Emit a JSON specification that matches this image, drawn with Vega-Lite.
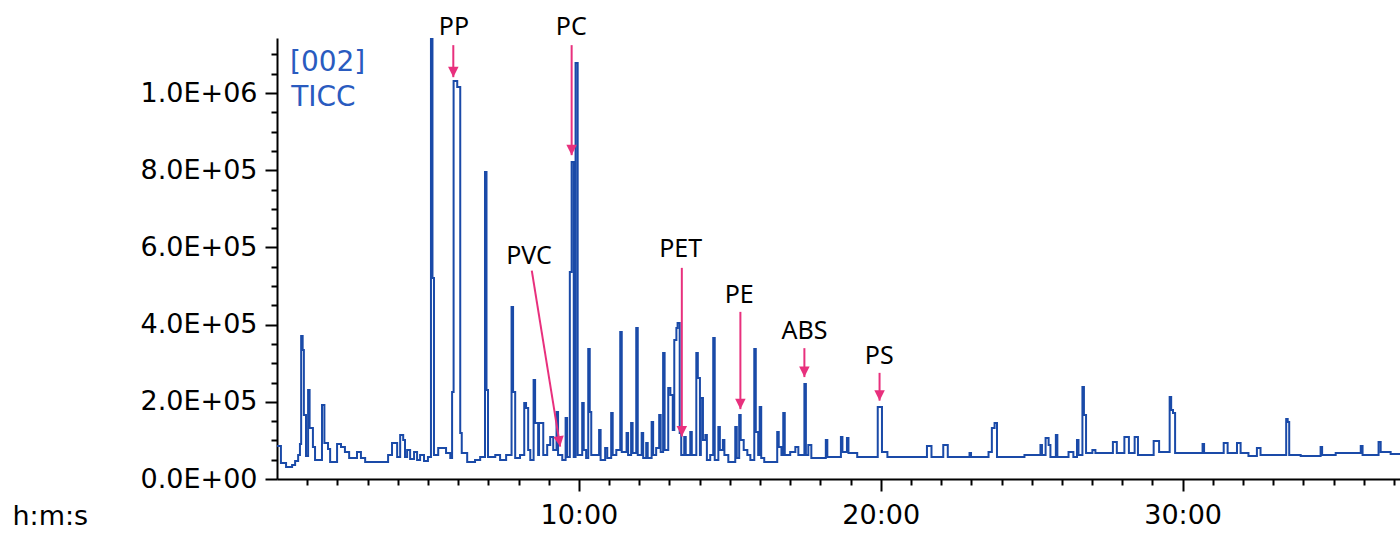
{
  "$schema": "https://vega.github.io/schema/vega-lite/v6.json",
  "width": 1123,
  "height": 441,
  "autosize": {"type": "none"},
  "padding": {"left": 277, "top": 38, "right": 0, "bottom": 73},
  "background": "white",
  "config": {"view": {"stroke": null}},
  "datasets": {
    "trace": [
      {"t":0.00,"v":85500},{"t":0.13,"v":41500},{"t":0.30,"v":31100},{"t":0.50,"v":36300},{"t":0.60,"v":46600},{"t":0.70,"v":62200},{"t":0.76,"v":90700},{"t":0.80,"v":370500},{"t":0.85,"v":334200},{"t":0.89,"v":165800},{"t":0.96,"v":59600},{"t":1.03,"v":230600},{"t":1.08,"v":132100},{"t":1.19,"v":82900},{"t":1.26,"v":49200},{"t":1.49,"v":191700},{"t":1.57,"v":93300},{"t":1.69,"v":77700},{"t":1.76,"v":44000},{"t":1.99,"v":90700},{"t":2.12,"v":82900},{"t":2.25,"v":70000},{"t":2.39,"v":54400},{"t":2.65,"v":70000},{"t":2.78,"v":54400},{"t":2.92,"v":44000},{"t":3.68,"v":62200},{"t":3.81,"v":93300},{"t":3.98,"v":57000},{"t":4.08,"v":114000},{"t":4.18,"v":101000},{"t":4.24,"v":57000},{"t":4.31,"v":75100},{"t":4.41,"v":51800},{"t":4.54,"v":70000},{"t":4.64,"v":49200},{"t":4.74,"v":62200},{"t":4.87,"v":46600},{"t":5.00,"v":57000},
      {"t":5.10,"v":1140000},{"t":5.15,"v":520800},{"t":5.20,"v":62200},{"t":5.34,"v":80300},{"t":5.60,"v":67400},{"t":5.74,"v":54400},{"t":5.80,"v":225400},{"t":5.85,"v":1031200},{"t":5.97,"v":1015700},{"t":6.07,"v":119200},{"t":6.12,"v":67400},{"t":6.30,"v":44000},{"t":6.56,"v":49200},{"t":6.73,"v":57000},{"t":6.89,"v":795400},{"t":6.94,"v":230600},{"t":6.99,"v":57000},{"t":7.23,"v":62200},{"t":7.39,"v":49200},{"t":7.59,"v":62200},{"t":7.77,"v":445700},{"t":7.82,"v":225400},{"t":7.89,"v":54400},{"t":8.05,"v":62200},{"t":8.19,"v":196900},{"t":8.25,"v":184000},{"t":8.32,"v":75100},{"t":8.39,"v":49200},{"t":8.50,"v":256500},{"t":8.55,"v":145100},{"t":8.65,"v":62200},{"t":8.68,"v":145100},{"t":8.82,"v":62200},{"t":8.95,"v":88100},{"t":9.05,"v":108800},{"t":9.15,"v":75100},{"t":9.26,"v":173600},{"t":9.31,"v":62200},{"t":9.45,"v":49200},{"t":9.56,"v":158000},{"t":9.61,"v":57000},{"t":9.70,"v":536300},{"t":9.76,"v":821300},{"t":9.83,"v":57000},{"t":9.89,"v":1077900},{"t":9.96,"v":62200},
      {"t":10.11,"v":196900},{"t":10.16,"v":75100},{"t":10.24,"v":54400},{"t":10.31,"v":336800},{"t":10.36,"v":173600},{"t":10.41,"v":62200},{"t":10.67,"v":127000},{"t":10.72,"v":49200},{"t":10.87,"v":80300},{"t":10.94,"v":54400},{"t":11.07,"v":171000},{"t":11.12,"v":62200},{"t":11.24,"v":75100},{"t":11.37,"v":380900},{"t":11.42,"v":70000},{"t":11.58,"v":119200},{"t":11.63,"v":62200},{"t":11.73,"v":145100},{"t":11.78,"v":67400},{"t":11.90,"v":391200},{"t":11.95,"v":62200},{"t":12.08,"v":119200},{"t":12.13,"v":54400},{"t":12.23,"v":93300},{"t":12.28,"v":54400},{"t":12.41,"v":147700},{"t":12.46,"v":62200},{"t":12.56,"v":80300},{"t":12.66,"v":165800},{"t":12.71,"v":70000},{"t":12.79,"v":326500},{"t":12.84,"v":75100},{"t":12.96,"v":235800},{"t":13.03,"v":217600},{"t":13.11,"v":127000},{"t":13.16,"v":360100},{"t":13.23,"v":391200},{"t":13.27,"v":404200},{"t":13.34,"v":119200},{"t":13.39,"v":62200},{"t":13.49,"v":108800},{"t":13.54,"v":62200},{"t":13.69,"v":121800},{"t":13.74,"v":62200},{"t":13.89,"v":326500},{"t":13.94,"v":261700},{"t":14.01,"v":62200},{"t":14.04,"v":209900},{"t":14.11,"v":101000},{"t":14.19,"v":114000},{"t":14.24,"v":49200},{"t":14.35,"v":62200},{"t":14.45,"v":365300},{"t":14.50,"v":49200},{"t":14.62,"v":134700},{"t":14.67,"v":75100},{"t":14.77,"v":101000},{"t":14.82,"v":62200},{"t":14.95,"v":44000},{"t":15.18,"v":134700},{"t":15.23,"v":54400},{"t":15.31,"v":165800},{"t":15.36,"v":101000},{"t":15.46,"v":75100},{"t":15.58,"v":62200},{"t":15.68,"v":49200},{"t":15.81,"v":336800},{"t":15.86,"v":121800},{"t":15.94,"v":62200},{"t":15.99,"v":186600},{"t":16.04,"v":54400},{"t":16.14,"v":44000},{"t":16.57,"v":121800},{"t":16.62,"v":82900},{"t":16.71,"v":62200},{"t":16.77,"v":171000},{"t":16.82,"v":62200},{"t":17.00,"v":70000},{"t":17.17,"v":82900},{"t":17.27,"v":62200},{"t":17.47,"v":246100},{"t":17.52,"v":62200},{"t":17.60,"v":88100},{"t":17.70,"v":54400},{"t":18.18,"v":101000},{"t":18.23,"v":57000},{"t":18.68,"v":108800},{"t":18.73,"v":70000},{"t":18.88,"v":106200},{"t":18.93,"v":67400},{"t":19.22,"v":57000},{"t":19.90,"v":186600},{"t":20.04,"v":70000},{"t":20.22,"v":57000},
      {"t":21.53,"v":85500},{"t":21.68,"v":57000},{"t":22.07,"v":88100},{"t":22.22,"v":57000},{"t":22.94,"v":67400},{"t":22.99,"v":57000},{"t":23.57,"v":70000},{"t":23.68,"v":132100},{"t":23.77,"v":145100},{"t":23.85,"v":57000},{"t":24.76,"v":62200},{"t":25.29,"v":88100},{"t":25.34,"v":62200},{"t":25.46,"v":106200},{"t":25.56,"v":88100},{"t":25.62,"v":57000},{"t":25.80,"v":114000},{"t":25.85,"v":57000},{"t":26.22,"v":70000},{"t":26.38,"v":57000},{"t":26.50,"v":101000},{"t":26.55,"v":62200},{"t":26.68,"v":238400},{"t":26.73,"v":165800},{"t":26.80,"v":67400},{"t":27.01,"v":75100},{"t":27.11,"v":67400},{"t":27.69,"v":95900},{"t":27.82,"v":67400},{"t":28.07,"v":108800},{"t":28.22,"v":67400},{"t":28.41,"v":108800},{"t":28.52,"v":62200},{"t":29.04,"v":98500},{"t":29.22,"v":70000},{"t":29.57,"v":212500},{"t":29.62,"v":178800},{"t":29.68,"v":171000},{"t":29.75,"v":67400},{"t":30.66,"v":90700},{"t":30.71,"v":67400},{"t":31.36,"v":93300},{"t":31.49,"v":67400},{"t":31.80,"v":93300},{"t":31.92,"v":67400},{"t":32.18,"v":59600},{"t":32.46,"v":80300},{"t":32.58,"v":62200},{"t":33.43,"v":155500},{"t":33.48,"v":147700},{"t":33.53,"v":62200},{"t":33.91,"v":59600},{"t":34.57,"v":82900},{"t":34.62,"v":62200},{"t":35.07,"v":67400},{"t":35.90,"v":85500},{"t":35.96,"v":62200},{"t":36.49,"v":95900},{"t":36.56,"v":70000},{"t":36.89,"v":64800},{"t":37.22,"v":64800}
    ],
    "arrows": [
      {"label":"PP","t":5.84,"v":1124000,"t2":5.84,"v2":1041000},
      {"label":"PC","t":9.76,"v":1124000,"t2":9.76,"v2":839000},
      {"label":"PVC","t":8.44,"v":540000,"t2":9.38,"v2":84000},
      {"label":"PET","t":13.41,"v":547000,"t2":13.41,"v2":110000},
      {"label":"PE","t":15.35,"v":433000,"t2":15.35,"v2":181000},
      {"label":"ABS","t":17.47,"v":339000,"t2":17.47,"v2":264000},
      {"label":"PS","t":19.96,"v":275000,"t2":19.96,"v2":203000}
    ],
    "labels": [
      {"label":"PP","t":5.86,"v":1170000},
      {"label":"PC","t":9.75,"v":1171000},
      {"label":"PVC","t":8.35,"v":578000},
      {"label":"PET","t":13.37,"v":596000},
      {"label":"PE","t":15.31,"v":477000},
      {"label":"ABS","t":17.47,"v":383000},
      {"label":"PS","t":19.95,"v":319000}
    ],
    "header": [
      {"label":"[002]","t":0.43,"v":1078000},
      {"label":"TICC","t":0.47,"v":987000}
    ]
  },
  "layer": [
    {
      "data": {"name": "trace"},
      "mark": {"type": "line", "interpolate": "step-after", "color": "#1a4aa8", "strokeWidth": 2},
      "encoding": {
        "x": {
          "field": "t", "type": "quantitative",
          "scale": {"domain": [0, 37.2], "nice": false, "zero": false},
          "axis": {
            "title": "h:m:s",
            "titleFont": "DejaVu Sans", "titleFontSize": 27, "titleFontWeight": "normal", "titleColor": "black",
            "titleAnchor": "start", "titleAlign": "left", "titleBaseline": "top", "titleX": -265, "titleY": 24,
            "values": [1,2,3,4,5,6,7,8,9,10,11,12,13,14,15,16,17,18,19,20,21,22,23,24,25,26,27,28,29,30,31,32,33,34,35,36,37],
            "tickCount": 500,
            "labelExpr": "datum.value % 10 === 0 ? (datum.value + ':00') : ''",
            "labelFont": "DejaVu Sans", "labelFontSize": 27, "labelColor": "black", "labelPadding": 11,
            "labelFlush": false, "labelOverlap": false,
            "tickSize": {"condition": {"test": "datum.value % 10 === 0", "value": 12}, "value": 6},
            "tickColor": "black", "tickWidth": 2, "domainColor": "black", "domainWidth": 2, "grid": false
          }
        },
        "y": {
          "field": "v", "type": "quantitative",
          "scale": {"domain": [0, 1142500], "nice": false},
          "axis": {
            "title": null,
            "values": [0,50000,100000,150000,200000,250000,300000,350000,400000,450000,500000,550000,600000,650000,700000,750000,800000,850000,900000,950000,1000000,1050000,1100000],
            "tickCount": 500,
            "labelExpr": "datum.value % 200000 === 0 ? (datum.value === 0 ? '0.0E+00' : (datum.value >= 1000000 ? format(datum.value / 1000000, '.1f') + 'E+06' : format(datum.value / 100000, '.1f') + 'E+05')) : ''",
            "labelFont": "DejaVu Sans", "labelFontSize": 27, "labelColor": "black", "labelPadding": 8,
            "labelFlush": false, "labelOverlap": false,
            "tickSize": {"condition": {"test": "datum.value % 200000 === 0", "value": 12}, "value": 6},
            "tickColor": "black", "tickWidth": 2, "domainColor": "black", "domainWidth": 2, "grid": false
          }
        }
      }
    },
    {
      "data": {"name": "arrows"},
      "mark": {"type": "rule", "color": "#e8307d", "strokeWidth": 2},
      "encoding": {
        "x": {"field": "t", "type": "quantitative"},
        "y": {"field": "v", "type": "quantitative"},
        "x2": {"field": "t2"},
        "y2": {"field": "v2"}
      }
    },
    {
      "data": {"name": "arrows"},
      "mark": {"type": "point", "shape": "M0,0L-0.5,-1L0.5,-1Z", "filled": true, "color": "#e8307d", "opacity": 1, "size": 440, "strokeWidth": 0},
      "encoding": {
        "x": {"field": "t2", "type": "quantitative"},
        "y": {"field": "v2", "type": "quantitative"},
        "angle": {"condition": {"test": "datum.label === 'PVC'", "value": -9}, "value": 0}
      }
    },
    {
      "data": {"name": "labels"},
      "mark": {"type": "text", "font": "Noto Sans", "fontSize": 25, "color": "black", "align": "center", "baseline": "middle"},
      "encoding": {
        "x": {"field": "t", "type": "quantitative"},
        "y": {"field": "v", "type": "quantitative"},
        "text": {"field": "label"}
      }
    },
    {
      "data": {"name": "header"},
      "mark": {"type": "text", "font": "DejaVu Sans", "fontSize": 28, "color": "#2a5bbf", "align": "left", "baseline": "middle"},
      "encoding": {
        "x": {"field": "t", "type": "quantitative"},
        "y": {"field": "v", "type": "quantitative"},
        "text": {"field": "label"}
      }
    }
  ]
}
